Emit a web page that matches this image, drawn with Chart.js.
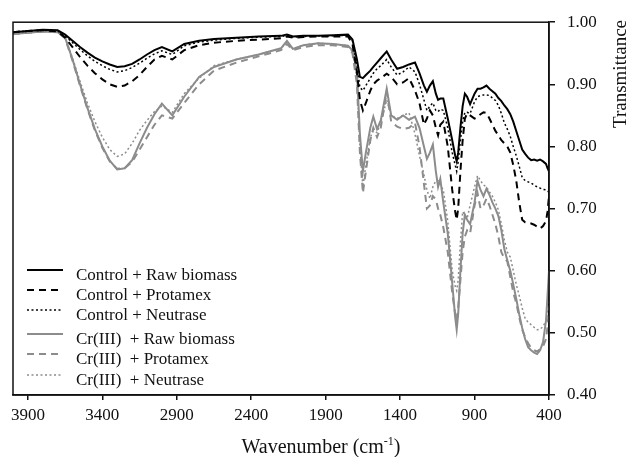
<!DOCTYPE html>
<html>
<head>
<meta charset="utf-8">
<script src="https://cdn.jsdelivr.net/npm/chart.js@4.4.0/dist/chart.umd.min.js"></script>
<style>
  html, body { margin: 0; padding: 0; background: #fff; }
  #wrap { width: 629px; height: 457px; position: relative; }
</style>
</head>
<body>
<div id="wrap"><canvas id="ftir"></canvas></div>
<script>
// --- DATA ---
const wavenumbers = [
  4000, 3900, 3800, 3700, 3650, 3600, 3550, 3500, 3450, 3400,
  3350, 3300, 3250, 3200, 3150, 3100, 3050, 3000, 2930, 2850,
  2750, 2650, 2500, 2350, 2200, 2160, 2120, 2050, 1950, 1850,
  1750, 1720, 1690, 1670, 1650, 1630, 1600, 1580, 1555, 1530,
  1490, 1460, 1420, 1380, 1340, 1300, 1270, 1240, 1220, 1200,
  1180, 1160, 1145, 1130, 1110, 1080, 1050, 1030, 1020, 1010,
  995, 980, 965, 950, 930, 900, 880, 860, 840, 820,
  800, 780, 760, 740, 720, 700, 680, 660, 640, 620,
  600, 580, 560, 540, 520, 500, 480, 460, 440, 420,
  410, 400
];

const controlRaw = [
  0.984, 0.986, 0.988, 0.987, 0.980, 0.970, 0.960, 0.951, 0.943, 0.937,
  0.932, 0.928, 0.929, 0.933, 0.940, 0.948, 0.955, 0.960, 0.953, 0.965,
  0.970, 0.973, 0.975, 0.977, 0.978, 0.980, 0.977, 0.978, 0.978, 0.979,
  0.980, 0.972, 0.940, 0.912, 0.910, 0.915, 0.922, 0.928, 0.935, 0.942,
  0.953, 0.940, 0.925, 0.928, 0.932, 0.935, 0.918, 0.898, 0.888, 0.898,
  0.905, 0.885, 0.875, 0.877, 0.877, 0.845, 0.810, 0.785, 0.776, 0.790,
  0.830, 0.865, 0.885, 0.880, 0.868, 0.885, 0.893, 0.893, 0.895, 0.898,
  0.893, 0.889, 0.885, 0.878, 0.873, 0.866, 0.860, 0.852, 0.840, 0.825,
  0.810, 0.795, 0.788, 0.782, 0.778, 0.779, 0.777, 0.779, 0.776, 0.772,
  0.765, 0.760
];

const controlProtamex = [
  0.984, 0.986, 0.987, 0.985, 0.975, 0.960, 0.944, 0.930, 0.918, 0.908,
  0.900, 0.896, 0.898, 0.905, 0.915, 0.928, 0.940, 0.946, 0.940, 0.955,
  0.963, 0.967, 0.970, 0.972, 0.974, 0.977, 0.975, 0.976, 0.977, 0.977,
  0.977, 0.965, 0.920, 0.875, 0.858, 0.870, 0.890, 0.900, 0.906, 0.910,
  0.917, 0.912, 0.900, 0.903, 0.910, 0.890, 0.870, 0.835, 0.845, 0.858,
  0.850, 0.830, 0.818, 0.835, 0.840, 0.800, 0.730, 0.695, 0.682, 0.700,
  0.760, 0.810, 0.845, 0.853, 0.850, 0.845, 0.847, 0.852, 0.855, 0.854,
  0.845, 0.835, 0.825, 0.818, 0.810, 0.805, 0.800, 0.790, 0.770, 0.745,
  0.710, 0.682, 0.678, 0.677, 0.676, 0.674, 0.671, 0.668, 0.672, 0.680,
  0.695, 0.720
];

const controlNeutrase = [
  0.984, 0.986, 0.987, 0.986, 0.978, 0.967, 0.956, 0.946, 0.937, 0.930,
  0.924, 0.920, 0.922, 0.927, 0.934, 0.942, 0.949, 0.954, 0.948, 0.962,
  0.968, 0.971, 0.974, 0.976, 0.977, 0.979, 0.976, 0.977, 0.978, 0.978,
  0.979, 0.970, 0.930, 0.895, 0.890, 0.898, 0.910, 0.918, 0.925, 0.930,
  0.940, 0.928, 0.915, 0.920, 0.928, 0.920, 0.900, 0.875, 0.858, 0.865,
  0.870, 0.858, 0.856, 0.860, 0.858, 0.830, 0.790, 0.770, 0.760, 0.775,
  0.810, 0.840, 0.855, 0.855, 0.853, 0.872, 0.880, 0.882, 0.883, 0.883,
  0.882, 0.878, 0.874, 0.866, 0.853, 0.838, 0.828, 0.816, 0.800, 0.785,
  0.768, 0.750, 0.745, 0.743, 0.741, 0.738, 0.735, 0.733, 0.731, 0.730,
  0.728, 0.727
];

const crRaw = [
  0.981, 0.983, 0.985, 0.984, 0.975, 0.940, 0.900, 0.862, 0.828, 0.800,
  0.777, 0.763, 0.765, 0.778, 0.805, 0.830, 0.852, 0.869, 0.850, 0.880,
  0.912, 0.928, 0.940, 0.948, 0.958, 0.970, 0.957, 0.963, 0.966, 0.965,
  0.962, 0.955, 0.920, 0.820, 0.760, 0.790, 0.830, 0.848, 0.828, 0.842,
  0.893, 0.850, 0.843, 0.850, 0.843, 0.848, 0.830, 0.800, 0.780, 0.790,
  0.803, 0.760, 0.735, 0.748, 0.710, 0.660, 0.580, 0.525, 0.505, 0.530,
  0.600, 0.660, 0.690, 0.682, 0.675, 0.710, 0.745, 0.730, 0.720, 0.732,
  0.722, 0.710, 0.700, 0.688, 0.665, 0.635, 0.617, 0.600, 0.578, 0.555,
  0.530, 0.508, 0.490, 0.477, 0.472, 0.468, 0.466, 0.472, 0.485, 0.520,
  0.560, 0.600
];

const crProtamex = [
  0.981, 0.983, 0.985, 0.984, 0.974, 0.938, 0.898, 0.860, 0.826, 0.798,
  0.776, 0.764, 0.765, 0.775, 0.795, 0.815, 0.835, 0.850, 0.845, 0.870,
  0.900, 0.922, 0.935, 0.945, 0.955, 0.965, 0.955, 0.960, 0.963, 0.963,
  0.960, 0.950, 0.900, 0.790, 0.725, 0.760, 0.810, 0.830, 0.815, 0.830,
  0.888, 0.840, 0.832, 0.828, 0.830, 0.838, 0.800, 0.740, 0.700, 0.705,
  0.720, 0.715, 0.700, 0.690, 0.670, 0.630, 0.565, 0.530, 0.520, 0.540,
  0.585, 0.630, 0.655, 0.665, 0.660, 0.705, 0.725, 0.700, 0.705, 0.716,
  0.705, 0.690, 0.675, 0.655, 0.630, 0.620, 0.615, 0.590, 0.565, 0.548,
  0.525, 0.505, 0.493, 0.483, 0.476, 0.472, 0.470, 0.474, 0.478, 0.490,
  0.510, 0.540
];

const crNeutrase = [
  0.981, 0.983, 0.985, 0.984, 0.975, 0.942, 0.905, 0.870, 0.840, 0.815,
  0.795, 0.784, 0.788, 0.805, 0.826, 0.842, 0.856, 0.865, 0.855, 0.885,
  0.910, 0.930, 0.940, 0.948, 0.958, 0.968, 0.957, 0.963, 0.966, 0.965,
  0.962, 0.952, 0.910, 0.800, 0.735, 0.770, 0.815, 0.825, 0.822, 0.838,
  0.875, 0.850, 0.845, 0.850, 0.854, 0.820, 0.785, 0.755, 0.730, 0.716,
  0.735, 0.745, 0.745, 0.738, 0.730, 0.680, 0.600, 0.575, 0.568, 0.585,
  0.645, 0.695, 0.690, 0.684, 0.705, 0.735, 0.753, 0.745, 0.738, 0.735,
  0.727, 0.720, 0.710, 0.698, 0.675, 0.650, 0.630, 0.622, 0.600, 0.578,
  0.560, 0.540, 0.523, 0.517, 0.513, 0.509, 0.505, 0.506, 0.510, 0.520,
  0.535, 0.550
];

const seriesLabels = [
  'Control + Raw biomass',
  'Control + Protamex',
  'Control + Neutrase',
  'Cr(III)  + Raw biomass',
  'Cr(III)  + Protamex',
  'Cr(III)  + Neutrase'
];

const xTickValues = [3900, 3400, 2900, 2400, 1900, 1400, 900, 400];
const yTickValues = [0.4, 0.5, 0.6, 0.7, 0.8, 0.9, 1.0];

// --- STYLE ---
const SERIF = '"Liberation Serif", "Times New Roman", serif';
const BLACK = '#000000';
const GREY = '#8c8c8c';
const DASH = [7, 5];
const DOT = [2, 2.5];

const toPoints = (vals) => wavenumbers.map((w, i) => ({ x: w, y: vals[i] }));

const makeSet = (label, vals, color, dash, width) => ({
  label,
  data: toPoints(vals),
  borderColor: color,
  borderWidth: width,
  borderDash: dash,
  pointRadius: 0,
  tension: 0,
  fill: false
});

const datasets = [
  makeSet(seriesLabels[0], controlRaw, BLACK, [], 2),
  makeSet(seriesLabels[1], controlProtamex, BLACK, DASH, 2),
  makeSet(seriesLabels[2], controlNeutrase, BLACK, DOT, 1.5),
  makeSet(seriesLabels[3], crRaw, GREY, [], 2),
  makeSet(seriesLabels[4], crProtamex, GREY, DASH, 2),
  makeSet(seriesLabels[5], crNeutrase, GREY, DOT, 1.5)
];

// --- PLUGINS: frame, titles, inset legend ---
const framePlugin = {
  id: 'frame',
  afterDraw(chart) {
    const { ctx, chartArea: a } = chart;
    ctx.save();
    ctx.strokeStyle = '#111';
    ctx.lineWidth = 1.5;
    ctx.strokeRect(a.left, a.top, a.right - a.left, a.bottom - a.top);
    ctx.restore();
  }
};

const titlePlugin = {
  id: 'titles',
  afterDraw(chart) {
    const ctx = chart.ctx;
    ctx.save();
    ctx.fillStyle = '#111';

    // x title with superscript
    const main = 'Wavenumber (cm';
    const sup = '-1';
    const close = ')';
    ctx.font = '20px ' + SERIF;
    const wMain = ctx.measureText(main).width;
    const wClose = ctx.measureText(close).width;
    ctx.font = '12px ' + SERIF;
    const wSup = ctx.measureText(sup).width;
    let x = 321 - (wMain + wSup + wClose) / 2;
    const base = 453;
    ctx.textAlign = 'left';
    ctx.textBaseline = 'alphabetic';
    ctx.font = '20px ' + SERIF;
    ctx.fillText(main, x, base);
    x += wMain;
    ctx.font = '12px ' + SERIF;
    ctx.fillText(sup, x, base - 8);
    x += wSup;
    ctx.font = '20px ' + SERIF;
    ctx.fillText(close, x, base);

    // y title, reading upward, on the right
    ctx.translate(626, 20);
    ctx.rotate(-Math.PI / 2);
    ctx.textAlign = 'right';
    ctx.font = '19px ' + SERIF;
    ctx.fillText('Transmittance', 0, 0);
    ctx.restore();
  }
};

const legendRows = [270, 290, 310, 334, 354, 375];
const insetLegend = {
  id: 'insetLegend',
  afterDraw(chart) {
    const ctx = chart.ctx;
    ctx.save();
    chart.data.datasets.forEach((ds, i) => {
      const y = legendRows[i];
      ctx.beginPath();
      ctx.strokeStyle = ds.borderColor;
      ctx.lineWidth = ds.borderWidth;
      ctx.setLineDash(ds.borderDash);
      ctx.moveTo(27, y);
      ctx.lineTo(63, y);
      ctx.stroke();
      ctx.setLineDash([]);
      ctx.fillStyle = '#111';
      ctx.font = '17px ' + SERIF;
      ctx.textAlign = 'left';
      ctx.textBaseline = 'alphabetic';
      ctx.fillText(ds.label, 76, y + 10);
    });
    ctx.restore();
  }
};

// --- CHART ---
const tickFont = { family: SERIF, size: 17 };

new Chart(document.getElementById('ftir'), {
  type: 'line',
  data: { datasets },
  options: {
    responsive: true,
    maintainAspectRatio: false,
    animation: false,
    devicePixelRatio: 1,
    layout: { padding: { left: 13, top: 18, right: 0, bottom: 0 } },
    plugins: { legend: { display: false }, tooltip: { enabled: false } },
    scales: {
      x: {
        type: 'linear',
        reverse: true,
        min: 400,
        max: 4000,
        position: 'bottom',
        border: { display: true, color: '#111', width: 1.5 },
        grid: { drawOnChartArea: false, drawTicks: true, tickLength: 5, color: '#111', lineWidth: 1.5 },
        ticks: { font: tickFont, color: '#111', padding: 5, maxRotation: 0, autoSkip: false, callback: (v) => String(v) },
        afterBuildTicks: (s) => { s.ticks = xTickValues.map(v => ({ value: v })); },
        afterFit: (s) => { s.height = 62; }
      },
      y: {
        type: 'linear',
        position: 'right',
        min: 0.4,
        max: 1.0,
        border: { display: true, color: '#111', width: 1.5 },
        grid: { drawOnChartArea: false, drawTicks: true, tickLength: 6, color: '#111', lineWidth: 1.5 },
        ticks: { font: tickFont, color: '#111', padding: 12, callback: (v) => v.toFixed(2) },
        afterBuildTicks: (s) => { s.ticks = yTickValues.map(v => ({ value: v })); },
        afterFit: (s) => { s.width = 80; }
      }
    }
  },
  plugins: [framePlugin, titlePlugin, insetLegend]
});
</script>
</body>
</html>
